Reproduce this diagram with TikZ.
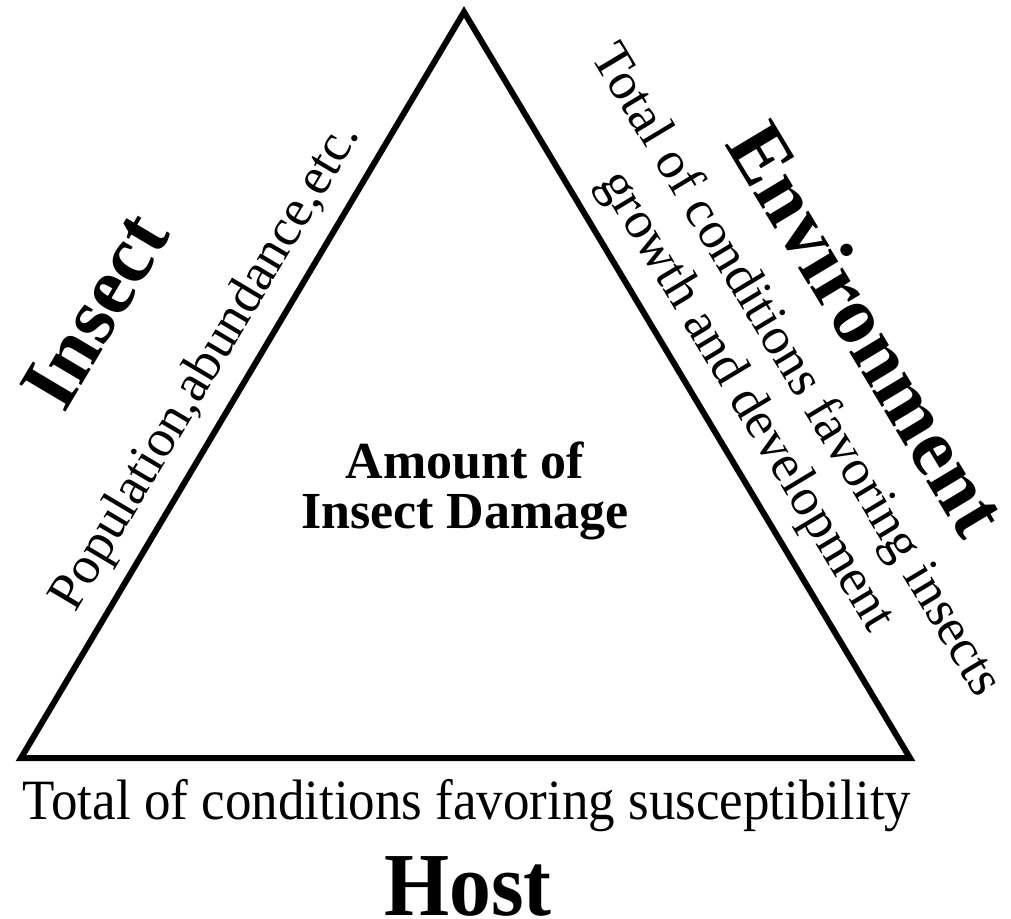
\documentclass[tikz,border=0pt]{standalone}
\usepackage{fontspec}
\setmainfont{Liberation Serif}
\newfontfamily\narrowserif[FakeStretch=0.93]{Liberation Serif}
\usetikzlibrary{calc}
\begin{document}
\begin{tikzpicture}
% insect damage triangle, coordinates in pixels
\def\pxsz{0.5pt}
\providecommand{\triLineWidth}{3pt}
\providecommand{\sideAngleL}{59.3}
\providecommand{\sideAngleR}{-59}
\tikzset{
  sidelabel/.style={inner sep=0pt, anchor=base, font=\fontsize{26.5}{30}\selectfont},
  cornerlabel/.style={inner sep=0pt, font=\bfseries\fontsize{41}{44}\selectfont},
}
\begin{scope}[x=\pxsz, y=-\pxsz, line join=miter]
  \useasboundingbox (0,0) rectangle (1011,919);
  % Corners
  \coordinate (top) at (464,12);
  \coordinate (bl) at (21,758);
  \coordinate (br) at (910,758);
  % Triangle
  \draw[line width=\triLineWidth] (top) -- (bl) -- (br) -- cycle;
  % Centre text
  \node[inner sep=0pt, align=center, font=\bfseries\fontsize{26}{25}\selectfont] (damage) at (465,491)
    {Amount of\\Insect Damage};
  % Left side
  \node[sidelabel, rotate=\sideAngleL] (population) at (218,374) {Population,abundance,etc.};
  \node[cornerlabel, rotate=\sideAngleL] (insect) at (95,311) {Insect};
  % Right side
  \node[sidelabel, rotate=\sideAngleR] (growth) at (734,408) {growth and development};
  \node[sidelabel, rotate=\sideAngleR] (favoring) at (784,378) {Total of conditions favoring insects};
  \node[cornerlabel, rotate=\sideAngleR] (environment) at (868,329) {Environment};
  % Bottom side
  \node[sidelabel, font=\narrowserif\fontsize{28.5}{30}\selectfont] (susceptibility) at (467,819)
    {Total of conditions favoring susceptibility};
  \node[inner sep=0pt, anchor=base, font=\narrowserif\bfseries\fontsize{45}{48}\selectfont] (host) at (468,915) {Host};
\end{scope}
\end{tikzpicture}
\end{document}
